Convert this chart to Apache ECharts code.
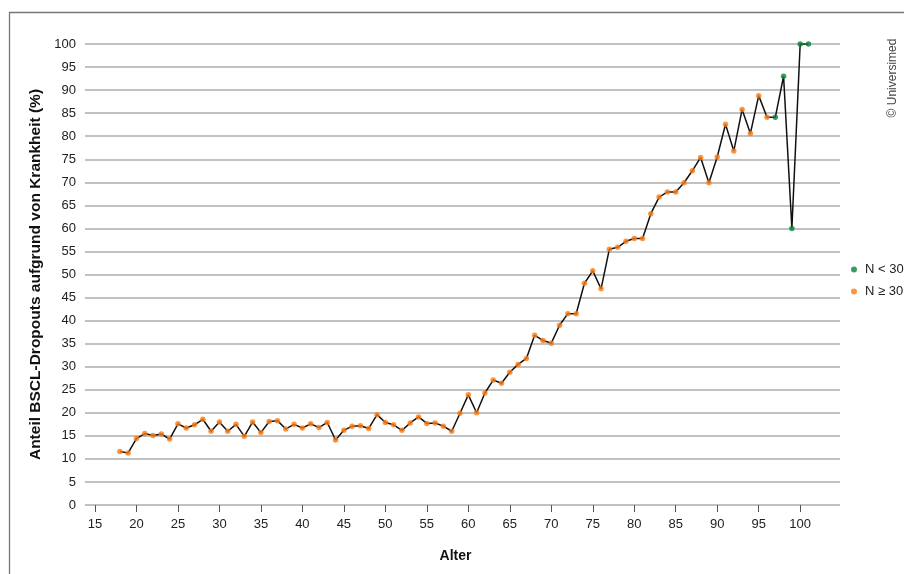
<!DOCTYPE html>
<html>
<head>
<meta charset="utf-8">
<script src="https://cdn.jsdelivr.net/npm/echarts@6/dist/echarts.min.js"></script>
<style>
  html, body { margin: 0; padding: 0; background: #fff; }
  #chart { width: 904px; height: 574px; }
</style>
</head>
<body>
<div id="chart"></div>
<script>
// Alter (Jahre)
var ages = [18, 19, 20, 21, 22, 23, 24, 25, 26, 27, 28, 29, 30, 31, 32, 33, 34, 35, 36, 37,
  38, 39, 40, 41, 42, 43, 44, 45, 46, 47, 48, 49, 50, 51, 52, 53, 54, 55, 56, 57,
  58, 59, 60, 61, 62, 63, 64, 65, 66, 67, 68, 69, 70, 71, 72, 73, 74, 75, 76, 77,
  78, 79, 80, 81, 82, 83, 84, 85, 86, 87, 88, 89, 90, 91, 92, 93, 94, 95, 96, 97,
  98, 99, 100, 101];
// Anteil Dropouts wegen Krankheit (%)
var shares = [11.6, 11.3, 14.4, 15.5, 15.1, 15.4, 14.3, 17.6, 16.7, 17.4, 18.6, 16.0, 18.0, 16.0, 17.5, 14.9, 18.0, 15.7, 18.1, 18.3,
  16.5, 17.5, 16.7, 17.6, 16.8, 17.9, 14.1, 16.2, 17.1, 17.2, 16.6, 19.6, 17.9, 17.4, 16.2, 17.8, 19.1, 17.7, 17.8, 17.1,
  16.0, 19.9, 23.9, 20.0, 24.3, 27.1, 26.4, 28.8, 30.5, 31.8, 36.8, 35.7, 35.1, 39.0, 41.5, 41.5, 48.1, 50.8, 46.9, 55.5,
  55.9, 57.2, 57.8, 57.8, 63.2, 66.8, 67.9, 67.9, 69.9, 72.5, 75.4, 69.9, 75.5, 82.6, 76.8, 85.8, 80.6, 88.8, 84.1, 84.1,
  93.0, 60.0, 100, 100];
// Alter mit N < 30
var smallNAges = [97, 98, 99, 100, 101];
var xTicks = [15, 20, 25, 30, 35, 40, 45, 50, 55, 60, 65, 70, 75, 80, 85, 90, 95, 100];

var allPts = [], smallPts = [], bigPts = [];
ages.forEach(function(a, i) {
  allPts.push([a, shares[i]]);
  if (smallNAges.indexOf(a) >= 0) smallPts.push([a, shares[i]]);
  else bigPts.push([a, shares[i]]);
});

var font = "'Liberation Sans', Arial, sans-serif";

var chart = echarts.init(document.getElementById("chart"));
chart.setOption({
  animation: false,
  grid: { left: 85, right: 64, top: 44, bottom: 69, containLabel: false },
  legend: {
    orient: "vertical",
    left: 846,
    top: 258,
    itemWidth: 6,
    itemHeight: 6,
    itemGap: 9,
    icon: "circle",
    data: ["N < 30", "N ≥ 30"],
    textStyle: { fontFamily: font, fontSize: 13, color: "#222", padding: [0, 0, 0, 3] }
  },
  xAxis: {
    type: "value",
    min: 13.8,
    max: 104.8,
    name: "Alter",
    nameLocation: "middle",
    nameGap: 44,
    nameTextStyle: { fontFamily: font, fontSize: 14, fontWeight: "bold", color: "#111", padding: [0, 14, 0, 0] },
    axisLine: { show: false },
    axisTick: { show: true, customValues: xTicks, length: 7, lineStyle: { color: "#555", width: 1 } },
    axisLabel: { customValues: xTicks, margin: 13, fontFamily: font, fontSize: 13, color: "#222" },
    splitLine: { show: false }
  },
  yAxis: {
    type: "value",
    min: 0,
    max: 100,
    interval: 5,
    name: "Anteil BSCL-Dropouts aufgrund von Krankheit (%)",
    nameLocation: "middle",
    nameRotate: 90,
    nameGap: 40,
    nameTextStyle: { fontFamily: font, fontSize: 15.5, fontWeight: "bold", color: "#111" },
    axisLine: { show: false },
    axisTick: { show: false },
    axisLabel: { margin: 9, fontFamily: font, fontSize: 13, color: "#222" },
    splitLine: { lineStyle: { color: "#adadad", width: 1.5 } }
  },
  graphic: [
    {
      type: "rect",
      shape: { x: 9.5, y: 12.5, width: 1000, height: 1000 },
      style: { fill: "none", stroke: "#777", lineWidth: 1.3 },
      silent: true
    },
    {
      type: "text",
      x: 893,
      y: 78,
      rotation: Math.PI / 2,
      style: {
        text: "© Universimed",
        fontFamily: font,
        fontSize: 12,
        fill: "#444",
        align: "center",
        verticalAlign: "middle"
      }
    }
  ],
  series: [
    {
      name: "Verlauf",
      type: "line",
      data: allPts,
      showSymbol: false,
      lineStyle: { color: "#111", width: 1.5 },
      z: 2
    },
    {
      name: "N < 30",
      type: "scatter",
      data: smallPts,
      symbolSize: 5.5,
      itemStyle: { color: "#0a8339" },
      z: 3
    },
    {
      name: "N ≥ 30",
      type: "scatter",
      data: bigPts,
      symbolSize: 5.5,
      itemStyle: { color: "#fb7a12" },
      z: 3
    }
  ]
});
</script>
</body>
</html>
